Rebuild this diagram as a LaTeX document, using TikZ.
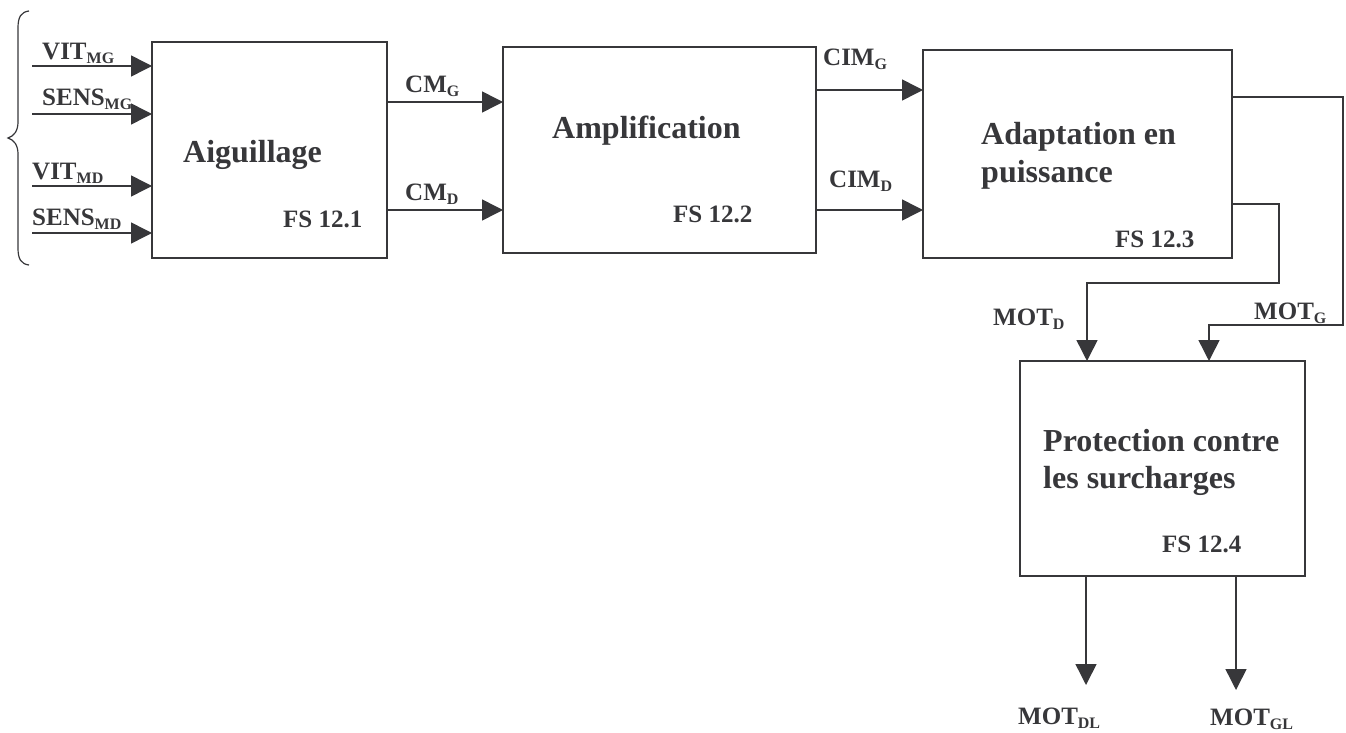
\documentclass[tikz,border=0pt]{standalone}
\usepackage{fontspec}
\setmainfont{Liberation Serif}
\usetikzlibrary{arrows.meta}
\definecolor{ink}{RGB}{55,55,58}
\newcommand\sbs[1]{\raisebox{-4pt}{\fontsize{16}{16}\selectfont #1}}
\tikzset{
  ln/.style={draw=ink, line width=1.5pt},
  arr/.style={ln, -{Triangle[length=21pt,width=21pt]}},
  blk/.style={draw=ink, line width=1.8pt, inner sep=0pt, outer sep=0pt, rectangle},
  lbl/.style={anchor=base west, inner sep=0pt, text=ink, font=\bfseries\fontsize{25}{30}\selectfont},
  ttl/.style={anchor=base west, inner sep=0pt, text=ink, font=\bfseries\fontsize{32}{38}\selectfont},
}
\begin{document}
\begin{tikzpicture}[x=1pt,y=-1pt]
\useasboundingbox (0,0) rectangle (1346,733);
% blocks
\node[blk, minimum width=313pt, minimum height=206pt] (b2) at (659.5,150) {};
\node[blk, minimum width=235pt, minimum height=216pt] (b1) at (269.5,150) {};
\node[blk, minimum width=309pt, minimum height=208pt] (b3) at (1077.5,154) {};
\node[blk, minimum width=285pt, minimum height=215pt] (b4) at (1162.5,468.5) {};
% block texts
\node[ttl] (tA) at (183,162) {Aiguillage};
\node[lbl] (f1) at (283,227) {FS 12.1};
\node[ttl] (tAmp) at (552,139) {Amplification};
\node[lbl] (f2) at (673,222) {FS 12.2};
\node[ttl] (tAd1) at (981,145) {Adaptation en};
\node[ttl] (tAd2) at (981,182) {puissance};
\node[lbl] (f3) at (1115,247) {FS 12.3};
\node[ttl] (tP1) at (1043,451) {Protection contre};
\node[ttl] (tP2) at (1043,488) {les surcharges};
\node[lbl] (f4) at (1162,552) {FS 12.4};
% brace
\draw[draw=ink, line width=1.2pt] (29,11) .. controls (21,12) and (18,17) .. (18,28) -- (18,122) .. controls (18,131) and (14,136) .. (8,138) .. controls (14,140) and (18,145) .. (18,154) -- (18,248) .. controls (18,259) and (21,264) .. (29,265);
% inputs
\coordinate (i1) at (32,66);
\coordinate (i2) at (32,114);
\coordinate (i3) at (32,186);
\coordinate (i4) at (32,233);
\draw[arr] (i1) -- (i1 -| b1.west);
\draw[arr] (i2) -- (i2 -| b1.west);
\draw[arr] (i3) -- (i3 -| b1.west);
\draw[arr] (i4) -- (i4 -| b1.west);
\node[lbl] (tVITMG) at (42,60) {VIT\sbs{MG}};
\node[lbl] (tSENSMG) at (42,106) {SENS\sbs{MG}};
\node[lbl] (tVITMD) at (32,179) {VIT\sbs{MD}};
\node[lbl] (tSENSMD) at (32,225) {SENS\sbs{MD}};
% b1 -> b2
\coordinate (yCMG) at (0,102);
\coordinate (yCMD) at (0,210);
\draw[arr] (b1.east |- yCMG) -- (b2.west |- yCMG);
\draw[arr] (b1.east |- yCMD) -- (b2.west |- yCMD);
\node[lbl] (tCMG) at (405,93) {CM\sbs{G}};
\node[lbl] (tCMD) at (405,200) {CM\sbs{D}};
% b2 -> b3
\coordinate (yCIMG) at (0,90);
\coordinate (yCIMD) at (0,210);
\draw[arr] (b2.east |- yCIMG) -- (b3.west |- yCIMG);
\draw[arr] (b2.east |- yCIMD) -- (b3.west |- yCIMD);
\node[lbl] (tCIMG) at (823,66) {CIM\sbs{G}};
\node[lbl] (tCIMD) at (829,187) {CIM\sbs{D}};
% b3 -> b4
\coordinate (yMG) at (0,97);
\coordinate (yMD) at (0,204);
\coordinate (xG) at (1209,0);
\coordinate (xD) at (1087,0);
\draw[arr] (b3.east |- yMG) -- (1343,97) -- (1343,325) -- (1209,325) -- (xG |- b4.north);
\draw[arr] (b3.east |- yMD) -- (1279,204) -- (1279,283) -- (1087,283) -- (xD |- b4.north);
\node[lbl] (tMOTD) at (993,325) {MOT\sbs{D}};
\node[lbl] (tMOTG) at (1254,319) {MOT\sbs{G}};
% outputs
\coordinate (oDL) at (1086,685);
\coordinate (oGL) at (1236,690);
\draw[arr] (oDL |- b4.south) -- (oDL);
\draw[arr] (oGL |- b4.south) -- (oGL);
\node[lbl] (tMOTDL) at (1018,724) {MOT\sbs{DL}};
\node[lbl] (tMOTGL) at (1210,725) {MOT\sbs{GL}};
\end{tikzpicture}
\end{document}
